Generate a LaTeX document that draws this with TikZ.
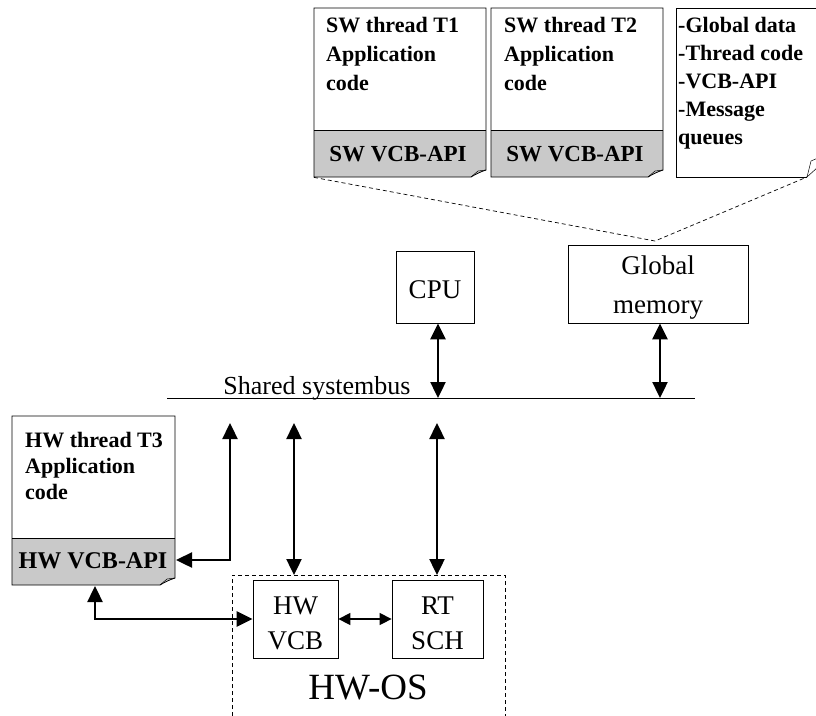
\documentclass[tikz,border=0pt]{standalone}
\usepackage{fontspec}
\setmainfont{Liberation Serif}
\usetikzlibrary{arrows.meta}
\begin{document}
\begin{tikzpicture}[x=1pt,y=-1pt,
  box/.style={draw, line width=0.8pt, inner sep=0pt},
  apifill/.style={fill=black!21},
  btext/.style={font=\bfseries\fontsize{22}{29}\selectfont, inner sep=0pt, anchor=base west},
  apitext/.style={font=\bfseries\fontsize{23}{25}\selectfont, inner sep=0pt},
  rtext/.style={font=\fontsize{27}{36}\selectfont, align=center, inner sep=0pt},
  big/.style={line width=2.4pt, {Triangle[length=16pt,width=15pt]}-{Triangle[length=16pt,width=15pt]}},
  small/.style={line width=1.4pt, {Triangle[length=12pt,width=12pt]}-{Triangle[length=12pt,width=12pt]}},
  dashline/.style={dashed, line width=0.7pt, dash pattern=on 4pt off 3pt},
  fold/.style={line width=0.5pt}
]
\useasboundingbox (0,0) rectangle (816,715);

% ---------- top SW boxes ----------
\node[minimum width=172pt, minimum height=169pt, anchor=north west, inner sep=0pt] (t1) at (314,8) {};
\node[minimum width=172pt, minimum height=169pt, anchor=north west, inner sep=0pt] (t2) at (491,8) {};
\node[minimum width=150pt, minimum height=169pt, anchor=north west, inner sep=0pt] (gd) at (676,8) {};

\fill[apifill] (314,130) -- (486,130) -- (486,170) .. controls (480,172) and (476,174) .. (471,177) -- (314,177) -- cycle;
\draw[line width=0.8pt] (314,8) -- (486,8) -- (486,170) .. controls (480,172) and (476,174) .. (471,177) -- (314,177) -- cycle;
\draw[line width=0.8pt] (314,130) -- (486,130);
\draw[fold] (486,170) -- (478,171) -- (471,177);

\fill[apifill] (491,130) -- (663,130) -- (663,170) .. controls (657,172) and (653,174) .. (648,177) -- (491,177) -- cycle;
\draw[line width=0.8pt] (491,8) -- (663,8) -- (663,170) .. controls (657,172) and (653,174) .. (648,177) -- (491,177) -- cycle;
\draw[line width=0.8pt] (491,130) -- (663,130);
\draw[fold] (663,170) -- (655,171) -- (648,177);

\draw[line width=0.8pt] (830,8) -- (676,8) -- (676,177) -- (807,177);
\draw[fold] (807,177) .. controls (809,169) .. (811,161) -- (818,158);
\draw[fold] (807,177) -- (818,167);
\coordinate (gdfold) at (807,177);

\node[btext] (t1txt) at (326,32) {\begin{tabular}[t]{@{}l@{}}SW thread T1\\Application\\code\end{tabular}};
\node[btext] (t2txt) at (504,32) {\begin{tabular}[t]{@{}l@{}}SW thread T2\\Application\\code\end{tabular}};
\node[btext, font=\bfseries\fontsize{22}{28}\selectfont] (gdtxt) at (678,32) {\begin{tabular}[t]{@{}l@{}}-Global data\\-Thread code\\-VCB-API\\-Message\\queues\end{tabular}};
\node[apitext] (t1api) at (398,154) {SW VCB-API};
\node[apitext] (t2api) at (575,154) {SW VCB-API};

% ---------- CPU, memory ----------
\node[box, minimum width=78pt, minimum height=72pt] (cpu) at (435,287) {};
\node[rtext] (cputxt) at (435,290) {CPU};
\node[box, minimum width=180pt, minimum height=78pt] (gm) at (658,284) {};
\node[rtext, font=\fontsize{27}{39}\selectfont] (gmtxt) at (658,288) {Global\\memory};

\coordinate (vtx) at (655,241);
\draw[dashline] (t1.south west) -- (vtx) -- (gdfold);

% ---------- bus ----------
\coordinate (busL) at (167,398);
\coordinate (busR) at (695,398);
\draw[line width=1pt] (busL) -- (busR);
\node[font=\fontsize{26}{30}\selectfont, anchor=base, inner sep=0pt] (buslabel) at (317,394) {Shared systembus};

\draw[big] ([xshift=3pt]cpu.south) -- ([xshift=3pt]cpu.south |- busL);
\draw[big] ([xshift=2pt]gm.south) -- ([xshift=2pt]gm.south |- busL);

% ---------- HW thread box ----------
\node[minimum width=163pt, minimum height=169pt, anchor=north west, inner sep=0pt] (t3) at (12,416) {};
\fill[apifill] (12,538) -- (175,538) -- (175,578) .. controls (169,580) and (165,582) .. (160,585) -- (12,585) -- cycle;
\draw[line width=0.8pt] (12,416) -- (175,416) -- (175,578) .. controls (169,580) and (165,582) .. (160,585) -- (12,585) -- cycle;
\draw[line width=0.8pt] (12,538) -- (175,538);
\draw[fold] (175,578) -- (167,579) -- (160,585);
\node[btext, font=\bfseries\fontsize{22}{26}\selectfont] (t3txt) at (25,447) {\begin{tabular}[t]{@{}l@{}}HW thread T3\\Application\\code\end{tabular}};
\node[apitext, font=\bfseries\fontsize{24}{25}\selectfont] (hwapi) at (93,561) {HW VCB-API};
\coordinate (hwapiE) at (176,560);
\coordinate (hwapiS) at (95,586);

% ---------- HW-OS ----------
\draw[dashline, line width=0.8pt] (232,730) -- (232,575) -- (505,575) -- (505,730);
\coordinate (hwosA) at (294,575);
\coordinate (hwosB) at (437,575);
\node[box, minimum width=85pt, minimum height=78pt] (vcb) at (295.5,619) {};
\node[rtext, font=\fontsize{27}{35}\selectfont] (vcbtxt) at (295.5,623) {HW\\VCB};
\node[box, minimum width=91pt, minimum height=78pt] (sch) at (437.5,619) {};
\node[rtext, font=\fontsize{27}{35}\selectfont] (schtxt) at (437.5,623) {RT\\SCH};
\node[font=\fontsize{37}{40}\selectfont, inner sep=0pt] (hwos) at (368,688) {HW-OS};

\coordinate (up1) at (230,423);
\coordinate (up2) at (294,423);
\coordinate (up3) at (437,423);

\draw[big] (up1) |- (hwapiE);
\draw[big] (up2) -- (hwosA);
\draw[big] (up3) -- (hwosB);
\draw[big] (hwapiS) |- (vcb.west);
\draw[small] (vcb.east) -- (sch.west);
\end{tikzpicture}
\end{document}
